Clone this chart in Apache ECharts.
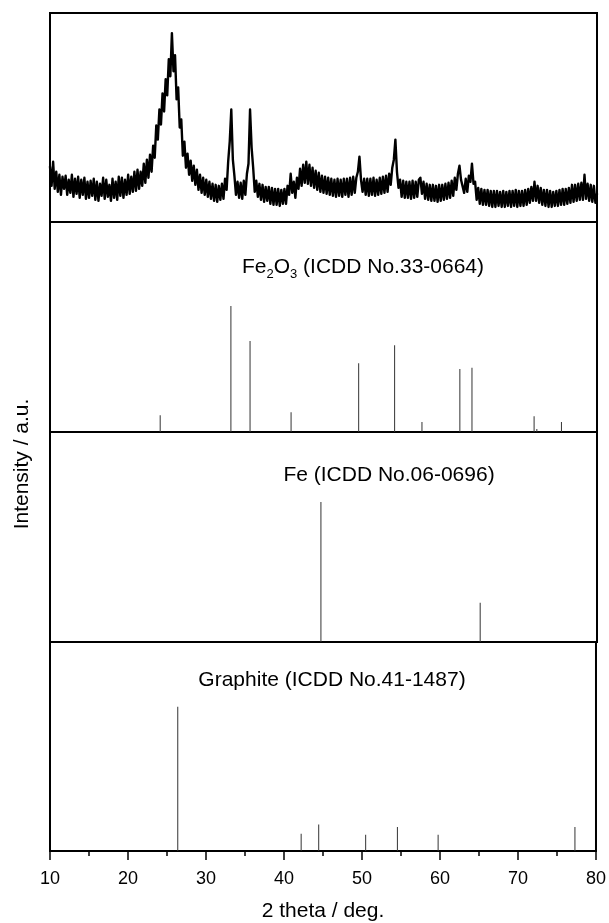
<!DOCTYPE html>
<html><head><meta charset="utf-8">
<script src="https://cdn.jsdelivr.net/npm/echarts@6/dist/echarts.min.js"></script>
<style>html,body{margin:0;padding:0;background:#fff}#c{width:609px;height:923px}</style>
</head><body><div id="c"></div><script>
// measured XRD pattern (start angle, step, intensity in arbitrary units)
const xrdStart = 10;
const xrdStep = 0.2;
const xrdIntensity = [
55,36,60,33,50,
30,47,27,45,33,
46,27,42,29,47,
25,43,28,45,24,
42,27,44,23,40,
24,41,26,43,22,
40,21,38,26,44,
23,42,25,37,21,
43,24,40,22,45,
26,44,24,42,27,
47,28,45,30,50,
31,52,33,50,36,
58,39,62,44,67,
50,76,64,96,82,
112,97,128,110,142,
126,162,145,188,150,
166,122,134,94,102,
66,80,54,68,47,
61,41,56,37,52,
32,47,29,44,27,
42,25,40,23,38,
21,37,20,36,22,
38,23,43,32,60,
80,112,62,46,27,
40,24,39,23,41,
27,48,58,112,74,
54,30,41,25,38,
22,37,20,35,21,
35,18,34,17,33,
17,33,16,32,18,
33,18,36,27,48,
29,40,24,44,33,
53,36,57,39,60,
38,57,36,54,34,
51,32,49,30,46,
29,45,28,44,27,
43,26,42,25,43,
26,42,25,43,27,
43,25,44,27,45,
29,44,50,65,42,
30,43,27,43,26,
43,27,44,26,42,
27,44,28,45,29,
46,30,48,37,54,
62,82,50,34,42,
25,41,24,40,24,
40,23,41,24,40,
25,42,44,28,40,
23,38,22,37,21,
37,21,36,20,37,
21,37,22,38,23,
39,24,41,26,44,
32,48,56,42,42,
29,43,30,46,40,
58,38,40,22,34,
18,33,17,32,17,
32,16,31,15,31,
15,31,16,30,15,
31,15,30,16,31,
15,31,16,32,15,
31,16,31,16,32,
17,33,19,35,21,
40,21,36,19,34,
17,32,16,32,15,
31,15,30,16,31,
16,32,17,33,17,
33,18,34,19,37,
20,37,21,38,22,
39,22,47,23,38,
21,37,20,36,19,
28
];
// reference patterns (2 theta, relative intensity)
const fe2o3Pos = [24.1, 33.15, 35.6, 40.85, 49.5, 54.1, 57.6, 62.45, 64.0, 71.95, 72.3, 75.45];
const fe2o3Int = [13.3, 100, 72.2, 15.6, 54.5, 68.8, 7.9, 50, 51, 12.5, 2.4, 7.9];
const fePos = [44.67, 65.05];
const feInt = [100, 28];
const graphitePos = [26.38, 42.2, 44.45, 50.47, 54.54, 59.76, 77.3];
const graphiteInt = [100, 11.9, 18.4, 11.2, 16.6, 11.2, 16.6];
const xTicks = [10, 20, 30, 40, 50, 60, 70, 80];
const panelTitles = ['Fe (ICDD No.06-0696)', 'Graphite (ICDD No.41-1487)'];

const FONT = '"Liberation Sans", Arial, Helvetica, sans-serif';
const chart = echarts.init(document.getElementById('c'), null, {renderer: 'canvas'});

const xrdData = xrdIntensity.map((v, i) => [xrdStart + i * xrdStep, v]);
const pairs = (p, v) => p.map((x, i) => [x, v[i]]);

const grids = [
  {top: 13, height: 209},
  {top: 222, height: 210},
  {top: 432, height: 210},
  {top: 642, height: 210}
].map(g => Object.assign({left: 50, right: 12, show: true, borderColor: '#000', borderWidth: 2, backgroundColor: 'transparent'}, g));

const xMin = xTicks[0], xMax = xTicks[xTicks.length - 1], xInt = xTicks[1] - xTicks[0];
const xAxes = [0, 1, 2, 3].map(i => ({
  gridIndex: i, type: 'value', min: xMin, max: xMax, interval: xInt,
  show: i === 3,
  axisLine: {show: true, lineStyle: {color: '#000', width: 2}},
  axisTick: {show: true, length: 9, lineStyle: {color: '#000', width: 1.5}},
  minorTick: {show: true, splitNumber: 2, length: 5, lineStyle: {color: '#000', width: 1.5}},
  splitLine: {show: false},
  axisLabel: {fontSize: 18, color: '#000', fontFamily: FONT, margin: 19},
  name: i === 3 ? '2 theta / deg.' : '',
  nameLocation: 'middle', nameGap: 50,
  nameTextStyle: {fontSize: 21, color: '#000', fontFamily: FONT}
}));
const yMax = [208, 166.7, 150, 144.8];
const yAxes = yMax.map((m, i) => ({
  gridIndex: i, type: 'value', min: 0, max: m, show: false
}));

const stick = (data, idx) => ({
  type: 'bar', xAxisIndex: idx, yAxisIndex: idx, data: data, barWidth: 1,
  itemStyle: {color: '#333'}, silent: true
});

chart.setOption({
  animation: false,
  backgroundColor: '#fff',
  grid: grids,
  xAxis: xAxes,
  yAxis: yAxes,
  series: [
    {type: 'line', xAxisIndex: 0, yAxisIndex: 0, data: xrdData, showSymbol: false,
     lineStyle: {color: '#000', width: 2.4, join: 'round', cap: 'round'}, sampling: null, silent: true},
    stick(pairs(fe2o3Pos, fe2o3Int), 1),
    stick(pairs(fePos, feInt), 2),
    stick(pairs(graphitePos, graphiteInt), 3)
  ],
  graphic: [
    {type: 'text', x: 363, y: 267, style: {
      text: '{n|Fe}{s|2}{n|O}{s|3}{n| (ICDD No.33-0664)}',
      align: 'center', verticalAlign: 'middle',
      rich: {
        n: {fontSize: 21, fontFamily: FONT, fill: '#000'},
        s: {fontSize: 13, fontFamily: FONT, fill: '#000', padding: [14, 0, 0, 0]}
      }}},
    {type: 'text', x: 389, y: 475, style: {text: panelTitles[0], fontSize: 21, fontFamily: FONT, fill: '#000', align: 'center', verticalAlign: 'middle'}},
    {type: 'text', x: 332, y: 680, style: {text: panelTitles[1], fontSize: 21, fontFamily: FONT, fill: '#000', align: 'center', verticalAlign: 'middle'}},
    {type: 'text', x: 22, y: 464, rotation: Math.PI / 2, style: {text: 'Intensity / a.u.', fontSize: 21, fontFamily: FONT, fill: '#000', align: 'center', verticalAlign: 'middle'}}
  ]
});
</script></body></html>
